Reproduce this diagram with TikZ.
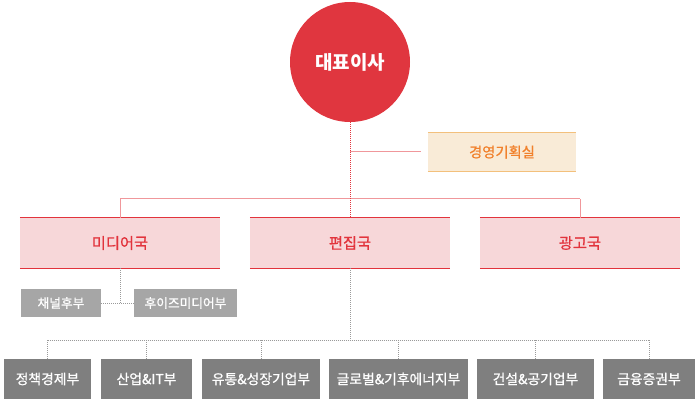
\documentclass[tikz,border=0pt]{standalone}
\usepackage{fontspec}
\setmainfont{Noto Sans CJK KR}
\newfontfamily\krmid{Noto Sans CJK KR}[FakeBold=0.9]
\definecolor{ceored}{HTML}{E0363F}
\definecolor{deptfill}{HTML}{F7D7D9}
\definecolor{deptline}{HTML}{E2333C}
\definecolor{linkred}{HTML}{F0979B}
\definecolor{planfill}{HTML}{F9EBD7}
\definecolor{planline}{HTML}{F3C07C}
\definecolor{plantext}{HTML}{F1812C}
\definecolor{teamlight}{HTML}{A6A6A6}
\definecolor{teamdark}{HTML}{7F7F7F}
\definecolor{linkgray}{HTML}{9A9A9A}
\tikzset{
  ceo/.style={circle,fill=ceored,text=white,minimum size=120pt,inner sep=0pt,
    font=\fontsize{19}{21}\selectfont\bfseries},
  dept/.style={fill=deptfill,text=deptline,minimum width=200pt,minimum height=50pt,
    inner sep=0pt,font=\krmid\fontsize{15.3}{17}\selectfont,
    append after command={(\tikzlastnode.north west) edge[draw=deptline,line width=1.2pt] (\tikzlastnode.north east)
      (\tikzlastnode.south west) edge[draw=deptline,line width=1.2pt] (\tikzlastnode.south east)}},
  plan/.style={fill=planfill,text=plantext,minimum width=148pt,minimum height=38pt,
    inner sep=0pt,font=\krmid\fontsize{14.3}{16}\selectfont,
    append after command={(\tikzlastnode.north west) edge[draw=planline,line width=1pt] (\tikzlastnode.north east)
      (\tikzlastnode.south west) edge[draw=planline,line width=1pt] (\tikzlastnode.south east)}},
  subteam/.style={fill=teamlight,text=white,minimum height=28pt,inner sep=0pt,
    font=\krmid\fontsize{12.7}{14}\selectfont},
  team/.style={fill=teamdark,text=white,minimum height=40pt,inner sep=0pt,
    font=\krmid\fontsize{13.8}{15}\selectfont},
  redlink/.style={draw=linkred,line width=1pt},
  reddot/.style={draw=deptline,line width=1pt,dash pattern=on 1pt off 1pt},
  graydot/.style={draw=linkgray,line width=1pt,dash pattern=on 1pt off 1pt}
}
\begin{document}
\begin{tikzpicture}[x=1pt,y=-1pt]
  \useasboundingbox (0,0) rectangle (697,401);
  \node[ceo] (A0_0) at (350,62) {대표이사};
  \node[plan] (A1_0) at (502,152) {경영기획실};
  \node[dept] (A2_0) at (120,243) {미디어국};
  \node[dept] (A2_1) at (350,243) {편집국};
  \node[dept] (A2_2) at (580,243) {광고국};
  \node[subteam,minimum width=80pt] (A3_0) at (61,303) {채널후부};
  \node[subteam,minimum width=103pt] (A3_1) at (185.5,303) {후이즈미디어부};
  \node[team,minimum width=87pt] (A4_0) at (47.5,379) {정책경제부};
  \node[team,minimum width=91pt] (A4_1) at (146.5,379) {산업\&IT부};
  \node[team,minimum width=118pt] (A4_2) at (261,379) {유통\&성장기업부};
  \node[team,minimum width=139pt] (A4_3) at (398.5,379) {글로벌\&기후에너지부};
  \node[team,minimum width=117pt] (A4_4) at (535.5,379) {건설\&공기업부};
  \node[team,minimum width=92pt] (A4_5) at (649,379) {금융증권부};
  % junctions
  \coordinate (J0) at (350,152);
  \coordinate (J1) at (350,199);
  \coordinate (J1_0) at (120,199);
  \coordinate (J1_2) at (580,199);
  \coordinate (J2) at (120,303);
  \coordinate (J3) at (350,340);
  \coordinate (J3_0) at (A4_0.north |- J3);
  \coordinate (J3_1) at (A4_1.north |- J3);
  \coordinate (J3_2) at (A4_2.north |- J3);
  \coordinate (J3_3) at (A4_3.north |- J3);
  \coordinate (J3_4) at (A4_4.north |- J3);
  \coordinate (J3_5) at (A4_5.north |- J3);
  \path (J0) edge [redlink] ([xshift=-7pt]A1_0.west);
  \path (J1_0) edge [redlink] (J1_2);
  \path (J1_0) edge [redlink] (A2_0.north);
  \path (J1_2) edge [redlink] (A2_2.north);
  \path (A0_0.south) edge [reddot] (A2_1.north);
  \path (A2_0.south) edge [graydot] (J2);
  \path (A3_0.east) edge [graydot] (A3_1.west);
  \path (A2_1.south) edge [graydot] (J3);
  \path (J3_0) edge [graydot] (J3_5);
  \path (J3_0) edge [graydot] (A4_0.north);
  \path (J3_1) edge [graydot] (A4_1.north);
  \path (J3_2) edge [graydot] (A4_2.north);
  \path (J3_3) edge [graydot] (A4_3.north);
  \path (J3_4) edge [graydot] (A4_4.north);
  \path (J3_5) edge [graydot] (A4_5.north);
\end{tikzpicture}
\end{document}
